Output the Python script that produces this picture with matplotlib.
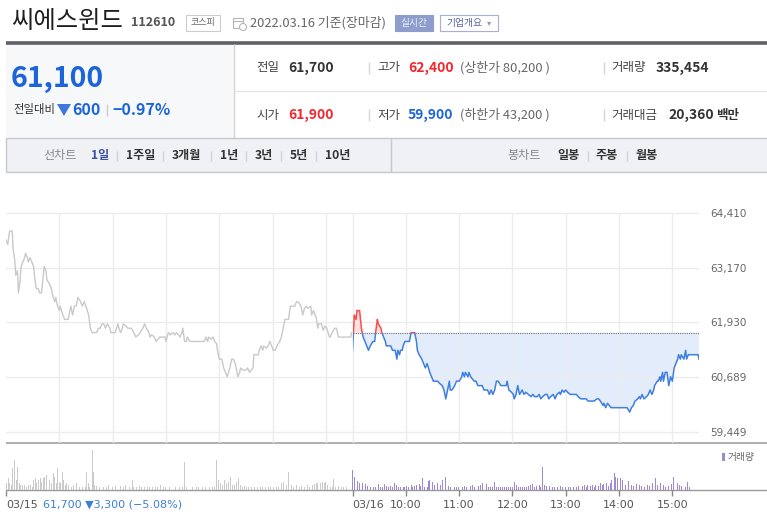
import numpy as np
import matplotlib
matplotlib.use("Agg")
from matplotlib import pyplot as plt
from matplotlib.patches import Rectangle, Polygon, Circle

plt.rcParams['font.family'] = ['Noto Sans CJK KR', 'DejaVu Sans']

# ---- data ----
# intraday price (minutes since 03/15 09:00; 03/16 09:00 = 390)
prev_day = [
    (0, 63800), (2, 63700), (4, 64000), (7, 64000), (8, 63600), (10, 63300), (11, 63000),
    (13, 63100), (14, 62600), (16, 62900), (17, 63200), (19, 63300), (21, 63400), (22, 63500),
    (24, 63400), (25, 63300), (27, 63400), (29, 63300), (31, 63200), (32, 63000), (34, 62700),
    (36, 62700), (38, 62600), (40, 62600), (42, 63000), (43, 63200), (45, 63100), (46, 62900),
    (49, 62800), (51, 62700), (53, 62500), (55, 62400), (56, 62500), (58, 62300), (60, 62200),
    (61, 62300), (64, 62100), (66, 62000), (70, 62000), (72, 62200), (73, 62300), (75, 62100),
    (77, 62300), (79, 62300), (81, 62500), (84, 62400), (86, 62300), (88, 62400), (90, 62300),
    (93, 62100), (95, 61800), (97, 61700), (102, 61700), (104, 61800), (106, 61800), (108, 61900),
    (110, 61900), (112, 61800), (114, 61900), (117, 61800), (118, 61700), (123, 61700), (126, 61900),
    (127, 61800), (129, 61700), (131, 61800), (132, 61900), (135, 61850), (137, 61800), (141, 61800),
    (144, 61700), (146, 61600), (149, 61650), (151, 61700), (154, 61800), (156, 61900), (158, 61800),
    (161, 61700), (162, 61600), (164, 61650), (167, 61600), (169, 61500), (171, 61550), (173, 61600),
    (179, 61600), (180, 61500), (182, 61650), (183, 61700), (185, 61650), (188, 61700), (190, 61650),
    (192, 61700), (194, 61650), (196, 61600), (198, 61700), (199, 61800), (201, 61500), (203, 61500),
    (204, 61600), (207, 61500), (223, 61500), (225, 61600), (227, 61500), (228, 61600), (231, 61550),
    (233, 61600), (235, 61500), (237, 61450), (238, 61300), (240, 61100), (243, 61100), (245, 60900),
    (247, 60800), (249, 60700), (252, 60900), (254, 61100), (256, 61100), (258, 61000), (260, 60800),
    (261, 60700), (263, 60800), (264, 60900), (267, 60850), (270, 60850), (272, 60900), (274, 60800),
    (276, 60850), (278, 60900), (279, 61200), (284, 61200), (285, 61300), (287, 61400), (289, 61300),
    (290, 61400), (293, 61350), (295, 61400), (297, 61500), (299, 61400), (301, 61300), (303, 61300),
    (305, 61400), (308, 61500), (310, 61600), (312, 61800), (314, 62000), (318, 62000), (320, 62300),
    (325, 62300), (327, 62400), (329, 62400), (332, 62300), (334, 62100), (336, 62250), (338, 62300),
    (340, 62250), (343, 62300), (344, 62100), (346, 62200), (349, 62050), (351, 61800), (352, 61900),
    (355, 61900), (357, 61750), (359, 61850), (361, 61800), (364, 61600), (365, 61600), (367, 61700),
    (370, 61800), (372, 61800), (374, 61600), (388, 61600), (389, 61700),
]
today = [
    (390, 61300), (391, 61700), (392, 62100), (394, 62000), (395, 62200), (398, 62200), (400, 61800),
    (401, 61700), (402, 61600), (404, 61500), (406, 61400), (408, 61300), (410, 61400), (413, 61500),
    (415, 61500), (416, 61700), (418, 62000), (419, 61900), (422, 61800), (423, 61700), (425, 61600),
    (427, 61500), (428, 61400), (433, 61400), (435, 61300), (438, 61300), (440, 61100), (441, 61300),
    (443, 61200), (444, 61300), (446, 61300), (447, 61400), (449, 61500), (454, 61500), (456, 61700),
    (460, 61700), (462, 61500), (463, 61300), (465, 61200), (468, 61100), (470, 61000), (472, 60900),
    (474, 61000), (477, 60800), (479, 60700), (481, 60600), (486, 60600), (488, 60550), (491, 60500),
    (493, 60400), (495, 60200), (497, 60400), (499, 60600), (500, 60400), (502, 60400), (505, 60500),
    (507, 60600), (510, 60600), (513, 60700), (514, 60800), (516, 60700), (517, 60800), (520, 60700),
    (521, 60800), (523, 60700), (525, 60650), (527, 60600), (529, 60600), (531, 60500), (536, 60500),
    (538, 60400), (542, 60400), (544, 60300), (546, 60400), (548, 60300), (550, 60400), (552, 60600),
    (554, 60600), (557, 60500), (563, 60500), (564, 60600), (566, 60400), (569, 60350), (571, 60300),
    (572, 60200), (574, 60300), (576, 60500), (578, 60300), (581, 60400), (583, 60300), (585, 60350),
    (588, 60300), (591, 60250), (593, 60300), (595, 60250), (598, 60250), (600, 60300), (602, 60200),
    (604, 60250), (607, 60300), (609, 60300), (611, 60200), (613, 60250), (616, 60300), (618, 60200),
    (620, 60300), (623, 60350), (624, 60300), (626, 60400), (628, 60350), (630, 60400), (632, 60350),
    (635, 60300), (642, 60300), (644, 60250), (647, 60200), (653, 60200), (655, 60150), (662, 60150),
    (665, 60200), (667, 60200), (669, 60150), (672, 60050), (673, 60100), (675, 60000), (677, 60100),
    (679, 60050), (681, 60000), (699, 60000), (702, 59900), (704, 60000), (706, 60050), (708, 60150),
    (711, 60200), (713, 60250), (714, 60200), (716, 60300), (718, 60200), (721, 60250), (723, 60300),
    (725, 60400), (727, 60300), (729, 60400), (730, 60500), (733, 60600), (734, 60600), (736, 60700),
    (737, 60600), (739, 60800), (740, 60600), (742, 60800), (744, 60800), (746, 60500), (748, 60700),
    (750, 60600), (752, 60900), (754, 61000), (756, 61100), (757, 61200), (759, 61100), (760, 61200),
    (763, 61100), (765, 61300), (766, 61100), (768, 61200), (779, 61200), (780, 61100),
]
prev_close = 61700

# per-minute volume (shares)
vol_prev = [
    (0, 7500), (1, 2000), (3, 3500), (4, 2000), (6, 1500), (7, 6500), (9, 4000), (10, 9000),
    (12, 3000), (13, 7000), (15, 2000), (16, 1500), (18, 3000), (19, 1500), (21, 1500), (23, 1000),
    (25, 1500), (28, 1500), (30, 1000), (31, 3000), (33, 3500), (34, 2000), (36, 1500), (37, 3000),
    (39, 3500), (40, 2500), (42, 3500), (43, 4000), (45, 3000), (46, 4500), (49, 3000), (51, 2000),
    (53, 5000), (55, 4000), (57, 2000), (58, 6500), (60, 2500), (61, 2000), (64, 5500), (65, 3000),
    (67, 1500), (68, 2000), (70, 1500), (72, 2500), (74, 1000), (76, 1500), (79, 2000), (81, 1500),
    (83, 1000), (86, 1000), (89, 800), (91, 5500), (93, 2000), (94, 1000), (97, 12000), (98, 5500),
    (100, 1500), (102, 1200), (105, 1000), (108, 1200), (110, 800), (113, 1000), (115, 1500),
    (117, 2500), (120, 1000), (123, 1200), (126, 1500), (129, 1200), (132, 1000), (135, 1500),
    (139, 1000), (142, 3000), (144, 1000), (147, 800), (150, 1200), (153, 800), (156, 800),
    (159, 1000), (162, 800), (165, 1000), (168, 800), (171, 800), (174, 1500), (177, 800),
    (180, 800), (184, 800), (188, 800), (191, 800), (195, 800), (199, 800), (201, 8500), (203, 1000),
    (206, 800), (210, 800), (214, 800), (217, 800), (221, 800), (225, 800), (229, 800), (232, 800),
    (235, 1000), (237, 9000), (239, 3000), (241, 2000), (244, 1500), (246, 3000), (248, 2000),
    (250, 2500), (253, 4000), (255, 1500), (257, 1500), (259, 2500), (262, 3500), (264, 1500),
    (266, 1000), (268, 1200), (271, 1000), (273, 800), (276, 1000), (278, 2000), (280, 1000),
    (283, 800), (286, 1000), (289, 800), (292, 1000), (295, 800), (298, 800), (301, 1000),
    (304, 800), (307, 1000), (310, 2000), (312, 2500), (314, 4500), (316, 1500), (318, 5500),
    (321, 1500), (324, 1000), (327, 1500), (330, 1000), (333, 1200), (336, 1000), (339, 1500),
    (342, 1000), (345, 1500), (347, 1800), (349, 2000), (351, 2000), (354, 2200), (356, 2500),
    (358, 2000), (360, 2500), (362, 1500), (365, 1000), (367, 1000), (369, 3200), (371, 1000),
    (374, 1200), (378, 1000), (380, 1000), (383, 800), (386, 800),
]
vol_today = [
    (390, 6000), (392, 4000), (394, 2500), (396, 2800), (398, 2000), (401, 2200), (403, 1500),
    (405, 1800), (407, 1200), (410, 1000), (412, 800), (414, 1000), (416, 800), (419, 1800),
    (422, 1000), (424, 1000), (426, 1800), (428, 1200), (431, 800), (433, 1200), (435, 1000),
    (437, 2000), (440, 1500), (442, 1000), (444, 800), (447, 1000), (449, 800), (451, 1200),
    (453, 1000), (456, 1500), (458, 800), (460, 1200), (462, 1500), (465, 1800), (467, 1200),
    (469, 3500), (471, 1000), (474, 800), (476, 2800), (477, 3000), (480, 2500), (482, 1500),
    (484, 3500), (486, 2000), (489, 1500), (491, 3000), (493, 3000), (495, 4000), (498, 1200),
    (500, 800), (502, 1000), (505, 800), (507, 800), (509, 1000), (511, 1000), (514, 800),
    (516, 1200), (518, 800), (520, 1000), (523, 1200), (525, 1500), (527, 800), (529, 1000),
    (532, 1200), (534, 1500), (536, 2000), (538, 1000), (541, 1800), (543, 800), (545, 800),
    (548, 1000), (550, 2500), (552, 800), (554, 800), (557, 800), (559, 800), (561, 800),
    (563, 800), (566, 800), (568, 800), (570, 800), (572, 2500), (575, 1500), (577, 1000),
    (579, 800), (581, 1000), (584, 1000), (586, 800), (588, 1200), (590, 1500), (593, 1800),
    (595, 1000), (597, 1200), (600, 1500), (602, 1000), (604, 7000), (606, 1500), (608, 1200),
    (610, 2000), (612, 1200), (615, 1000), (617, 1000), (619, 800), (621, 1000), (624, 1200),
    (626, 800), (628, 1500), (630, 800), (633, 800), (635, 1000), (637, 1000), (639, 800),
    (642, 1000), (644, 1200), (646, 1500), (649, 1200), (651, 1500), (653, 1000), (655, 1500),
    (658, 1200), (660, 1500), (662, 1000), (664, 1500), (667, 1200), (669, 2000), (671, 1500),
    (673, 1800), (676, 2000), (678, 1200), (680, 2000), (682, 3000), (685, 5000), (686, 4000),
    (688, 3500), (690, 1500), (692, 3500), (694, 3000), (697, 1500), (699, 1500), (701, 2800),
    (704, 1500), (706, 1200), (708, 2000), (710, 1800), (713, 1500), (715, 1200), (717, 1500),
    (719, 1000), (722, 1500), (724, 1200), (726, 1800), (728, 2000), (731, 3500), (733, 1500),
    (735, 2200), (737, 2000), (740, 1500), (742, 1000), (744, 1500), (746, 1200), (749, 1800),
    (751, 3800), (753, 2500), (756, 2200), (758, 1500), (760, 1200), (762, 1500), (765, 1000),
    (767, 2500), (769, 1000), (780, 7500),
]

price_ticks = [59449, 60689, 61930, 63170, 64410]
grid_minutes = [60, 120, 180, 240, 300, 360, 390, 450, 510, 570, 630, 690, 750]
time_ticks = [0, 390, 450, 510, 570, 630, 690, 750]
time_labels = ['03/15', '03/16', '10:00', '11:00', '12:00', '13:00', '14:00', '15:00']

info_row1 = [('전일', '61,700', '#333333'), ('고가', '62,400', '#f0282d'), ('거래량', '335,454', '#333333')]
info_row2 = [('시가', '61,900', '#f0282d'), ('저가', '59,900', '#1d66d6'), ('거래대금', '20,360', '#333333')]
line_periods = ['1일', '1주일', '3개월', '1년', '3년', '5년', '10년']
candle_periods = ['일봉', '주봉', '월봉']

BLUE = '#1b64da'
RED = '#f0282d'

W, H = 767, 523
fig = plt.figure(figsize=(W / 100, H / 100), dpi=100)

# background layer in pixel coordinates for the page furniture
bg = fig.add_axes([0, 0, 1, 1])
bg.set_xlim(0, W)
bg.set_ylim(H, 0)
bg.axis('off')


def hline(y, x0, x1, color, lw=1.0):
    bg.plot([x0, x1], [y, y], color=color, lw=lw, solid_capstyle='butt')


def vline(x, y0, y1, color, lw=1.0):
    bg.plot([x, x], [y0, y1], color=color, lw=lw, solid_capstyle='butt')


# title row
bg.text(11, 21, '씨에스윈드', fontsize=17.5, color='#1e1e1e', va='center')
bg.text(131, 23, '112610', fontsize=9, color='#555555', fontweight='bold', va='center')
bg.add_patch(Rectangle((186, 15), 34, 16, fill=False, ec='#cccccc', lw=0.8))
bg.text(203, 23, '코스피', fontsize=6.5, color='#666666', ha='center', va='center')
bg.add_patch(Rectangle((233, 18), 10, 10, fill=False, ec='#b5b5b5', lw=0.8))
hline(21, 233, 243, '#b5b5b5', 0.8)
bg.add_patch(Circle((243, 27), 3.5, fc='white', ec='#b5b5b5', lw=0.8))
bg.text(250, 23, '2022.03.16 기준(장마감)', fontsize=9.3, color='#666666', va='center')
bg.add_patch(Rectangle((395, 15), 38, 16, fc='#8e9dcb', ec='#8e9dcb', lw=0.8))
bg.text(414, 23, '실시간', fontsize=7, color='#eef1f8', ha='center', va='center')
bg.add_patch(Rectangle((440, 15), 58, 16, fill=False, ec='#a5b0d2', lw=0.8))
bg.text(446, 23, '기업개요', fontsize=7, color='#5565a0', va='center')
bg.text(487, 23, '▾', fontsize=6, color='#8d97bd', va='center', family=['DejaVu Sans'])

hline(42.5, 6, W, '#5f6166', 2.6)

# summary panel
bg.add_patch(Rectangle((6, 44), 228, 94, fc='#f7f8fa', ec='none'))
vline(234, 44, 138, '#d5d5d5')
hline(91, 234, W, '#e6e6e6')
bg.text(11, 79, '61,100', fontsize=20.5, color=BLUE, fontweight='bold', va='center')
bg.text(13, 110, '전일대비', fontsize=8.2, color='#333333', va='center')
bg.add_patch(Polygon([(57, 104), (71, 104), (64, 116)], closed=True, fc='#3f78d8', ec='none'))
bg.text(72, 110, '600', fontsize=11.5, color=BLUE, fontweight='bold', va='center')
vline(107, 104, 116, '#cccccc')
bg.text(112, 110, '−0.97%', fontsize=11.5, color=BLUE, fontweight='bold', va='center')

for row_y, row in ((68, info_row1), (115, info_row2)):
    (l1, v1, c1), (l2, v2, c2), (l3, v3, c3) = row
    bg.text(256, row_y, l1, fontsize=9, color='#444444', va='center')
    bg.text(288, row_y, v1, fontsize=10, color=c1, fontweight='bold', va='center')
    vline(369, row_y - 6, row_y + 6, '#d5d5d5')
    bg.text(377, row_y, l2, fontsize=9, color='#444444', va='center')
    bg.text(408, row_y, v2, fontsize=10, color=c2, fontweight='bold', va='center')
    limit = '(상한가 80,200 )' if row_y == 68 else '(하한가 43,200 )'
    bg.text(460, row_y, limit, fontsize=9.3, color='#666666', va='center')
    vline(604, row_y - 6, row_y + 6, '#d5d5d5')
    bg.text(611, row_y, l3, fontsize=9, color='#444444', va='center')
    vx = 656 if row_y == 68 else 668
    bg.text(vx, row_y, v3, fontsize=10, color=c3, fontweight='bold', va='center')
bg.text(716, 115, '백만', fontsize=9, color='#333333', fontweight='bold', va='center')

# period tab bar
bg.add_patch(Rectangle((6, 138), W - 6, 34, fc='#eff1f5', ec='none'))
hline(138, 6, W, '#c6c8ce')
hline(172, 6, W, '#c6c8ce')
vline(6, 138, 172, '#c6c8ce')
vline(391, 138, 172, '#c6c8ce')
bg.text(43, 156, '선차트', fontsize=8.7, color='#888888', va='center')
tab_x = [91, 126, 172, 220, 255, 290, 325]
for i, (lab, x) in enumerate(zip(line_periods, tab_x)):
    bg.text(x, 156, lab, fontsize=8.7, fontweight='bold',
            color='#3b4fa3' if i == 0 else '#333333', va='center')
    if i > 0:
        vline(x - 9, 151, 161, '#d0d2d8')
bg.text(507, 156, '봉차트', fontsize=8.7, color='#888888', va='center')
for i, (lab, x) in enumerate(zip(candle_periods, [557, 596, 635])):
    bg.text(x, 156, lab, fontsize=8.7, fontweight='bold', color='#333333', va='center')
    if i > 0:
        vline(x - 8, 151, 161, '#d0d2d8')

# ---- price chart ----
top_px, bot_px = 190, 443
ax = fig.add_axes([6 / W, 1 - bot_px / H, 693 / W, (bot_px - top_px) / H])
ax.set_xlim(0, 780)
ax.set_ylim(59200, 64931)
ax.set_facecolor('none')
for s in ax.spines.values():
    s.set_visible(False)
ax.set_xticks([])
ax.set_yticks(price_ticks)
ax.set_yticklabels([f'{v:,}' for v in price_ticks], family=['DejaVu Sans'])
ax.yaxis.tick_right()
ax.tick_params(axis='y', length=0, pad=8, labelsize=7.5, labelcolor='#666666')
ax.grid(axis='y', color='#ececec', lw=1.0)
ax.vlines(grid_minutes, 59200, price_ticks[-1], color='#ececec', lw=1.0)

t1 = np.array([a for a, _ in prev_day])
p1 = np.array([b for _, b in prev_day])
t2 = np.array([a for a, _ in today])
p2 = np.array([b for _, b in today])

ax.plot(t1, p1, color='#c9c9cc', lw=1.0)
ax.fill_between(t2, p2, prev_close, where=p2 <= prev_close, interpolate=True,
                color='#e3ecfa', lw=0)
ax.fill_between(t2, p2, prev_close, where=p2 >= prev_close, interpolate=True,
                color='#fbe1e1', lw=0)
ax.hlines(prev_close, 390, 780, color='#777777', lw=0.8, linestyles=(0, (1, 1)))
blue_line, = ax.plot(t2, p2, color='#3f7fe0', lw=1.1)
red_line, = ax.plot(t2, p2, color='#ff4a4a', lw=1.1)
below = Rectangle((390, 59200), 390, prev_close - 59200, transform=ax.transData)
above = Rectangle((390, prev_close), 390, 64931 - prev_close, transform=ax.transData)
blue_line.set_clip_path(below)
red_line.set_clip_path(above)

hline(443, 6, W, '#a9a9a9', 1.3)

# ---- volume ----
vol_top, vol_bot = 447, 490
vx = fig.add_axes([6 / W, 1 - vol_bot / H, 693 / W, (vol_bot - vol_top) / H])
vx.set_xlim(0, 780)
vx.set_ylim(0, 12900)
vx.set_facecolor('none')
for s in vx.spines.values():
    s.set_visible(False)
vx.bar([a for a, _ in vol_prev], [b for _, b in vol_prev], width=1.0, color='#cacaca', lw=0)
vx.bar([a for a, _ in vol_today], [b for _, b in vol_today], width=1.0, color='#9d89d4', lw=0)
vx.set_yticks([])
vx.set_xticks(time_ticks)
vx.set_xticklabels(time_labels, family=['DejaVu Sans'])
vx.tick_params(axis='x', length=4, width=1, color='#888888', pad=3, labelsize=8,
               labelcolor='#555555')
for lab, t in zip(vx.get_xticklabels(), time_ticks):
    if t in (0, 390):
        lab.set_ha('left')
hline(490, 6, W, '#9a9a9a', 1.0)

bg.text(43, 504.5, '61,700 ▼3,300 (−5.08%)', fontsize=8, color='#3b7fd9', va='center',
        family=['DejaVu Sans'])
bg.add_patch(Rectangle((722, 453), 3, 8, fc='#9d89d4', ec='none'))
bg.text(728, 457, '거래량', fontsize=7, color='#666666', va='center')

fig.savefig('out.png', dpi=100)
